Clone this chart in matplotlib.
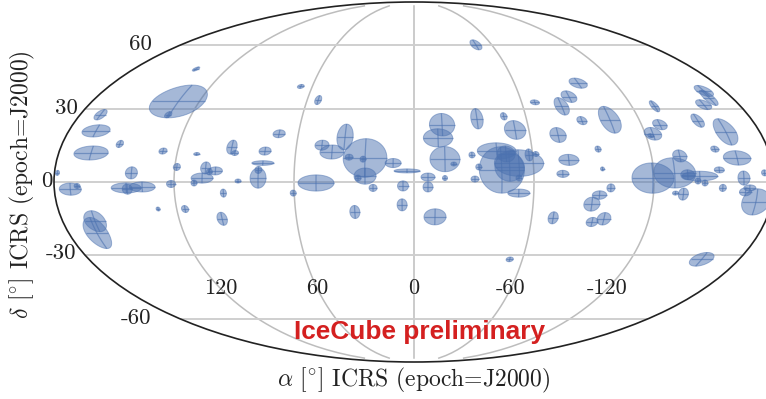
import numpy as np
import matplotlib
matplotlib.use("Agg")
import matplotlib.pyplot as plt
from matplotlib.patches import Polygon
from matplotlib.ticker import NullFormatter

# --- values (degrees) ---
ra = [140, 131.7, 132.5, 169, 165.8, 163.6, 150.5, 127.4, 141.5, 178.5,
      172, 168.5, 144, 136, 143.5, 121.5, 119, 110, 104.5, 99.5,
      102.5, 106, 110, 95.5, 88, 92.8, 90.7, 75.6, 76, 78,
      78, 70, 66.8, 53.8, 60.5, 49, 47, 41.6, 35.6, 32.8,
      24.7, 25.7, 24.5, 20.5, 28, -47.8, -98.2, -88, -81.4, -67.4,
      -89.3, -104.4, -132.6, -129.7, -124, -122.5, -168, -166.9, -160.4, -150.9,
      -162.3, -153, -163, -153, -165, -175.5, -154.5, -172, -166, -168,
      -14.8, -12.4, -15.6, -20, -33.6, -48.2, -52.8, -74.6, -29.3, -32.5,
      -30.5, -42, -46.6, -44, -52.8, -48, -58.2, -61.7, -52.5, -52.5,
      -78, -74.5, -93.6, -94.5, -119.5, -130.5, -134.3, -143, -137, -142,
      -145.5, 10.5, 3.5, -7, 5.5, -7, -15.5, -98.5, -93, -89.6,
      -71, -97, -91.3, -53, -159.3, -135, -131, -10.7, 6, 129.4,
      115.8, 98, 30, 163.4, 165.3]
dec = [48, 33.5, 27.7, 27.7, 20.9, 11.8, 15.5, 12.6, 3.7, 3.7,
       -2.9, -1.6, -2.4, -2, -2.9, -0.8, 6.1, 11.4, 5.7, 4.5,
       4.1, 1.6, -0.4, -4.5, 0.4, 14.2, 11.8, 12.6, 7.7, 4.9,
       1.6, 19.7, 40, 34, -4.5, -0.4, 15, 12.2, 18.4, 10.1,
       9.8, 9.3, 2.4, -2.4, 1.6, 60, 41.5, 35.5, 31.3, 33,
       25.2, 25.6, 31.3, 23.5, 19.7, 18.9, 38, 35, 32, 25.2,
       20.5, 13.4, 9.8, 4.9, 1.6, 3.7, -2.4, -8.1, -4, -2.4,
       23.5, 18, 9.3, 7.3, 26, 27, 21.3, 19.2, 11, 6.1,
       1.2, 12.6, 11.4, 4.9, 7.7, 6.1, 11, 11.4, 1.6, -4.5,
       9, 3.3, 13.4, 5.3, 1.6, 3.7, 10.6, 2.4, 2.9, 0.4,
       -0.4, 7.7, 4.5, 2, -1.6, -2, 1.6, -2.4, -5.3, -9,
       -14.6, -15, -16.3, -32, -32, -4.9, -4.5, -14.2, -9.3, -11,
       -11, -15, -12.2, -16, -20.9]
semi_ra = [1.3, 13, 1.6, 2.6, 6.8, 8.5, 1.7, 2, 3, 1,
           5.5, 1.5, 7.5, 6.5, 2.5, 2.25, 1.75, 1.5, 2.5, 3.5,
           1.5, 5.5, 1.5, 1.5, 1.5, 2.5, 1.75, 3, 5.5, 1.75,
           4, 3, 1.6, 1.6, 1.5, 9, 3.5, 6, 4, 2,
           10.9, 1.5, 5.5, 2, 1.5, 2.5, 4.1, 3.6, 3.3, 2.2,
           2.4, 4.9, 1.8, 3.4, 4.2, 1.5, 3.7, 2.7, 3.4, 2.7,
           5.1, 2, 6.8, 2.5, 3, 1.5, 1.75, 7, 3, 3,
           6.25, 7.3, 7.5, 1.5, 3, 1.6, 5.25, 4, 1.5, 1.5,
           2, 9.7, 4.5, 11.25, 12.3, 7.4, 2, 1.5, 1.5, 5.5,
           5, 3, 1.5, 1, 10.5, 10.5, 3.5, 8.9, 3.5, 1.5,
           1.5, 4, 6.5, 3.5, 2.75, 2.5, 1.25, 2, 3.6, 4,
           2.5, 3.4, 2.9, 1.75, 5.4, 2.5, 1.5, 5.5, 2.5, 1,
           1.75, 2.5, 2.5, 5.25, 5.7]
semi_dec = [1.2, 8.7, 1.6, 2.7, 3.1, 3.5, 1.8, 1.5, 3, 1.25,
            3, 1.25, 2.5, 2.5, 2.5, 1.75, 1.75, 0.75, 3, 2,
            1.5, 2.5, 1.5, 2, 1, 3.5, 1.25, 2, 1.15, 1.75,
            5, 2, 1.1, 2.4, 1.5, 4, 2.5, 3.5, 6.5, 1.5,
            9.6, 1.5, 4, 1.75, 1.5, 3.2, 2.8, 3.1, 4.6, 1.3,
            2.1, 6.9, 2.9, 2.6, 3.2, 1, 3, 4.1, 2.6, 3.4,
            6.7, 1.5, 3.6, 1.5, 3.5, 1.5, 1.75, 6.5, 2, 1.5,
            5.75, 4.6, 6.25, 1, 5.25, 1.9, 4.75, 3.75, 1.5, 1.5,
            1.5, 4.1, 4, 11.5, 6.6, 7.1, 3, 1.25, 1.5, 2,
            2.75, 1.75, 1.5, 1, 7.5, 7.5, 3, 2.4, 2.5, 1.5,
            1.5, 2.25, 1, 2, 2.5, 2.5, 1.25, 2, 2.1, 3.5,
            3, 3.1, 2.3, 1.25, 3.6, 3, 1, 4, 3, 1,
            1.75, 3.25, 3.25, 5.25, 7.9]

ra_ticks = [120, 60, 0, -60, -120]
dec_ticks = [60, 30, 0, -30, -60]
dec_pads = [-29, -7, -2, -8, -30]

BLUE = "#4c72b0"
SERIF = "cmr10"
T = np.linspace(0, 2 * np.pi, 49)[:-1]


def outline(r, d, a, b, t):
    # widths are kept in map units, hence the cos and the 0.82
    lon = -r + a * np.cos(t) / np.cos(np.radians(0.85 * d))
    lat = d + 0.82 * b * np.sin(t)
    return np.radians(lon), np.radians(lat)


plt.rcParams["axes.formatter.use_mathtext"] = True
fig = plt.figure(figsize=(7.66, 3.99), dpi=100)
ax = fig.add_axes([54 / 766, 37 / 399, 720 / 766, 360 / 399], projection="mollweide")
ax.set_longitude_grid(60)
ax.set_latitude_grid(30)
ax.set_longitude_grid_ends(85)
ax.xaxis.set_major_formatter(NullFormatter())
ax.yaxis.set_major_formatter(NullFormatter())
ax.xaxis.grid(True, color="#bdbdbd", linewidth=1.1)
ax.yaxis.grid(True, color="#cfcfcf", linewidth=1.4)
ax.set_axisbelow(True)
for spine in ax.spines.values():
    spine.set_color("#222222")
    spine.set_linewidth(1.2)

for r, d, a, b in zip(ra, dec, semi_ra, semi_dec):
    lon, lat = outline(r, d, a, b, T)
    ax.add_patch(Polygon(np.column_stack([lon, lat]), closed=True, facecolor=BLUE,
                         edgecolor=BLUE, linewidth=0.7, alpha=0.5, zorder=3))
    for t0 in (0, np.pi / 2):
        lon, lat = outline(r, d, a, b, np.array([t0, t0 + np.pi]))
        ax.plot(lon, lat, color=BLUE, linewidth=0.9, alpha=0.6, zorder=3, solid_capstyle="butt")

for r in ra_ticks:
    ax.text(np.radians(-r), np.radians(-45), str(r), family=SERIF, fontsize=16,
            ha="center", va="center", color="#222222", zorder=5)
for d, pad in zip(dec_ticks, dec_pads):
    ax.annotate(str(d), xy=(-np.pi, np.radians(d)), xytext=(pad, 1), textcoords="offset pixels",
                family=SERIF, fontsize=16.5, ha="right", va="center", color="#222222",
                annotation_clip=False)

fig.text(414 / 766, 1 - 380 / 399, r"$\alpha$ [$^{\circ}$] ICRS (epoch=J2000)", family=SERIF,
         fontsize=17, ha="center", va="center", color="#222222", math_fontfamily="cm")
fig.text(22 / 766, 1 - 185 / 399, r"$\delta$ [$^{\circ}$] ICRS (epoch=J2000)", family=SERIF,
         fontsize=17, ha="center", va="center", rotation=90, color="#222222", math_fontfamily="cm")
fig.text(420 / 766, 1 - 332 / 399, "IceCube preliminary", family="Liberation Sans",
         fontweight="bold", fontsize=18.9, ha="center", va="center", color="#d42020")

fig.savefig("out.png", dpi=100)
